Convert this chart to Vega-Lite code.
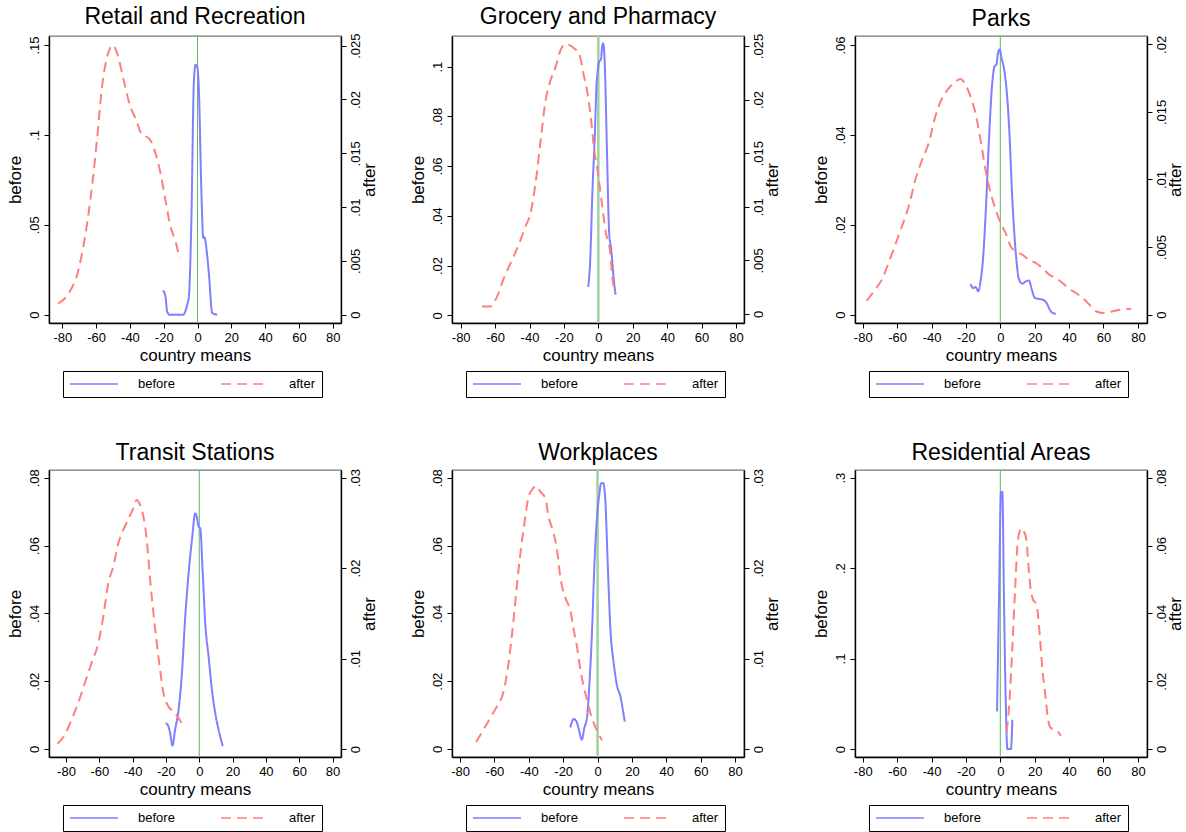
{
"$schema": "https://vega.github.io/schema/vega-lite/v6.json",
"background": "white",
"padding": {"left": 5, "top": 5, "right": 5, "bottom": 0},
"bounds": "flush",
"columns": 3,
"spacing": {"row": 147, "column": 111},
"datasets": {
"d": [
{"panel":"Retail","series":"before","x":-20.5,"y":0.0135},{"panel":"Retail","series":"before","x":-19.0,"y":0.0102},{"panel":"Retail","series":"before","x":-18.0,"y":0.0019},{"panel":"Retail","series":"before","x":-16.6,"y":0},{"panel":"Retail","series":"before","x":-8.5,"y":0},{"panel":"Retail","series":"before","x":-6.1,"y":0.0056},{"panel":"Retail","series":"before","x":-5.1,"y":0.0102},{"panel":"Retail","series":"before","x":-3.6,"y":0.0546},{"panel":"Retail","series":"before","x":-2.2,"y":0.1287},{"panel":"Retail","series":"before","x":-1.2,"y":0.139},{"panel":"Retail","series":"before","x":-0.2,"y":0.138},{"panel":"Retail","series":"before","x":0.8,"y":0.125},{"panel":"Retail","series":"before","x":2.2,"y":0.0713},{"panel":"Retail","series":"before","x":3.4,"y":0.0426},{"panel":"Retail","series":"before","x":4.1,"y":0.0431},{"panel":"Retail","series":"before","x":5.1,"y":0.038},{"panel":"Retail","series":"before","x":6.7,"y":0.0231},{"panel":"Retail","series":"before","x":8.7,"y":0.0009},{"panel":"Retail","series":"before","x":11.7,"y":0},
{"panel":"Retail","series":"after","x":-82.6,"y":0.00102},{"panel":"Retail","series":"after","x":-76.2,"y":0.00201},{"panel":"Retail","series":"after","x":-70.7,"y":0.00402},{"panel":"Retail","series":"after","x":-67.4,"y":0.0065},{"panel":"Retail","series":"after","x":-63.4,"y":0.0107},{"panel":"Retail","series":"after","x":-59.5,"y":0.01624},{"panel":"Retail","series":"after","x":-56.5,"y":0.0212},{"panel":"Retail","series":"after","x":-52.9,"y":0.0243},{"panel":"Retail","series":"after","x":-50.2,"y":0.02506},{"panel":"Retail","series":"after","x":-47.6,"y":0.0243},{"panel":"Retail","series":"after","x":-43.7,"y":0.0218},{"panel":"Retail","series":"after","x":-39.7,"y":0.0193},{"panel":"Retail","series":"after","x":-36.7,"y":0.01825},{"panel":"Retail","series":"after","x":-32.8,"y":0.0167},{"panel":"Retail","series":"after","x":-28.8,"y":0.0164},{"panel":"Retail","series":"after","x":-24.9,"y":0.015},{"panel":"Retail","series":"after","x":-21.9,"y":0.01315},{"panel":"Retail","series":"after","x":-19.0,"y":0.01067},{"panel":"Retail","series":"after","x":-16.0,"y":0.0082},{"panel":"Retail","series":"after","x":-13.0,"y":0.0068},{"panel":"Retail","series":"after","x":-10.7,"y":0.00526},
{"panel":"Grocery","series":"before","x":-5.9,"y":0.0114},{"panel":"Grocery","series":"before","x":-4.8,"y":0.021},{"panel":"Grocery","series":"before","x":-3.4,"y":0.0505},{"panel":"Grocery","series":"before","x":-2.0,"y":0.0732},{"panel":"Grocery","series":"before","x":-1.1,"y":0.092},{"panel":"Grocery","series":"before","x":-0.5,"y":0.0973},{"panel":"Grocery","series":"before","x":0.5,"y":0.102},{"panel":"Grocery","series":"before","x":1.5,"y":0.1029},{"panel":"Grocery","series":"before","x":2.2,"y":0.108},{"panel":"Grocery","series":"before","x":2.8,"y":0.1094},{"panel":"Grocery","series":"before","x":3.8,"y":0.1},{"panel":"Grocery","series":"before","x":5.0,"y":0.0665},{"panel":"Grocery","series":"before","x":6.3,"y":0.0331},{"panel":"Grocery","series":"before","x":7.5,"y":0.0264},{"panel":"Grocery","series":"before","x":8.8,"y":0.0157},{"panel":"Grocery","series":"before","x":10.0,"y":0.0083},
{"panel":"Grocery","series":"after","x":-67.6,"y":0.00071},{"panel":"Grocery","series":"after","x":-62.7,"y":0.00071},{"panel":"Grocery","series":"after","x":-58.8,"y":0.00165},{"panel":"Grocery","series":"after","x":-54.9,"y":0.00335},{"panel":"Grocery","series":"after","x":-51.0,"y":0.00475},{"panel":"Grocery","series":"after","x":-47.1,"y":0.00615},{"panel":"Grocery","series":"after","x":-42.3,"y":0.00817},{"panel":"Grocery","series":"after","x":-39.4,"y":0.0094},{"panel":"Grocery","series":"after","x":-36.5,"y":0.0122},{"panel":"Grocery","series":"after","x":-33.5,"y":0.01624},{"panel":"Grocery","series":"after","x":-30.6,"y":0.01997},{"panel":"Grocery","series":"after","x":-27.7,"y":0.02183},{"panel":"Grocery","series":"after","x":-24.8,"y":0.02307},{"panel":"Grocery","series":"after","x":-21.9,"y":0.02463},{"panel":"Grocery","series":"after","x":-19.6,"y":0.02516},{"panel":"Grocery","series":"after","x":-17.0,"y":0.0251},{"panel":"Grocery","series":"after","x":-14.1,"y":0.02478},{"panel":"Grocery","series":"after","x":-11.2,"y":0.0243},{"panel":"Grocery","series":"after","x":-8.7,"y":0.02245},{"panel":"Grocery","series":"after","x":-6.3,"y":0.0206},{"panel":"Grocery","series":"after","x":-4.4,"y":0.0184},{"panel":"Grocery","series":"after","x":-2.4,"y":0.0153},{"panel":"Grocery","series":"after","x":-0.5,"y":0.01345},{"panel":"Grocery","series":"after","x":1.8,"y":0.01065},{"panel":"Grocery","series":"after","x":4.4,"y":0.00755},{"panel":"Grocery","series":"after","x":6.7,"y":0.006},{"panel":"Grocery","series":"after","x":8.3,"y":0.0032},{"panel":"Grocery","series":"after","x":9.6,"y":0.0021},
{"panel":"Parks","series":"before","x":-17.3,"y":0.00681},{"panel":"Parks","series":"before","x":-15.8,"y":0.00593},{"panel":"Parks","series":"before","x":-14.4,"y":0.00615},{"panel":"Parks","series":"before","x":-12.8,"y":0.00519},{"panel":"Parks","series":"before","x":-11.5,"y":0.0074},{"panel":"Parks","series":"before","x":-10.1,"y":0.0122},{"panel":"Parks","series":"before","x":-8.6,"y":0.0219},{"panel":"Parks","series":"before","x":-6.6,"y":0.0389},{"panel":"Parks","series":"before","x":-4.7,"y":0.0515},{"panel":"Parks","series":"before","x":-3.3,"y":0.0553},{"panel":"Parks","series":"before","x":-2.3,"y":0.0556},{"panel":"Parks","series":"before","x":-1.4,"y":0.0581},{"panel":"Parks","series":"before","x":-0.4,"y":0.059},{"panel":"Parks","series":"before","x":0.8,"y":0.057},{"panel":"Parks","series":"before","x":2.1,"y":0.0548},{"panel":"Parks","series":"before","x":3.5,"y":0.0507},{"panel":"Parks","series":"before","x":5.1,"y":0.0419},{"panel":"Parks","series":"before","x":7.0,"y":0.0256},{"panel":"Parks","series":"before","x":9.0,"y":0.0137},{"panel":"Parks","series":"before","x":10.9,"y":0.0078},{"panel":"Parks","series":"before","x":12.8,"y":0.0069},{"panel":"Parks","series":"before","x":14.8,"y":0.0074},{"panel":"Parks","series":"before","x":16.7,"y":0.0076},{"panel":"Parks","series":"before","x":18.3,"y":0.0056},{"panel":"Parks","series":"before","x":20.2,"y":0.0037},{"panel":"Parks","series":"before","x":22.6,"y":0.0035},{"panel":"Parks","series":"before","x":24.9,"y":0.0033},{"panel":"Parks","series":"before","x":26.9,"y":0.0026},{"panel":"Parks","series":"before","x":28.8,"y":0.0011},{"panel":"Parks","series":"before","x":30.4,"y":0.0004},{"panel":"Parks","series":"before","x":32.3,"y":0.0002},
{"panel":"Parks","series":"after","x":-77.7,"y":0.00103},{"panel":"Parks","series":"after","x":-72.8,"y":0.00185},{"panel":"Parks","series":"after","x":-68.9,"y":0.00259},{"panel":"Parks","series":"after","x":-65.0,"y":0.00382},{"panel":"Parks","series":"after","x":-61.1,"y":0.00517},{"panel":"Parks","series":"after","x":-57.2,"y":0.00653},{"panel":"Parks","series":"after","x":-53.3,"y":0.008},{"panel":"Parks","series":"after","x":-49.4,"y":0.00998},{"panel":"Parks","series":"after","x":-45.5,"y":0.01145},{"panel":"Parks","series":"after","x":-41.7,"y":0.01268},{"panel":"Parks","series":"after","x":-37.8,"y":0.01466},{"panel":"Parks","series":"after","x":-33.9,"y":0.01601},{"panel":"Parks","series":"after","x":-30.0,"y":0.01675},{"panel":"Parks","series":"after","x":-26.1,"y":0.01724},{"panel":"Parks","series":"after","x":-23.2,"y":0.01744},{"panel":"Parks","series":"after","x":-20.2,"y":0.017},{"panel":"Parks","series":"after","x":-17.3,"y":0.01613},{"panel":"Parks","series":"after","x":-14.4,"y":0.0149},{"panel":"Parks","series":"after","x":-11.5,"y":0.01293},{"panel":"Parks","series":"after","x":-8.6,"y":0.01071},{"panel":"Parks","series":"after","x":-5.6,"y":0.00899},{"panel":"Parks","series":"after","x":-2.7,"y":0.00776},{"panel":"Parks","series":"after","x":0.2,"y":0.00677},{"panel":"Parks","series":"after","x":3.1,"y":0.00603},{"panel":"Parks","series":"after","x":6.0,"y":0.00505},{"panel":"Parks","series":"after","x":9.0,"y":0.00468},{"panel":"Parks","series":"after","x":12.8,"y":0.00443},{"panel":"Parks","series":"after","x":16.7,"y":0.00406},{"panel":"Parks","series":"after","x":20.6,"y":0.00382},{"panel":"Parks","series":"after","x":24.5,"y":0.00345},{"panel":"Parks","series":"after","x":28.4,"y":0.00296},{"panel":"Parks","series":"after","x":32.3,"y":0.00271},{"panel":"Parks","series":"after","x":36.2,"y":0.00234},{"panel":"Parks","series":"after","x":40.1,"y":0.0019},{"panel":"Parks","series":"after","x":44.0,"y":0.0016},{"panel":"Parks","series":"after","x":47.9,"y":0.00123},{"panel":"Parks","series":"after","x":51.8,"y":0.00074},{"panel":"Parks","series":"after","x":55.7,"y":0.00025},{"panel":"Parks","series":"after","x":59.6,"y":0.00012},{"panel":"Parks","series":"after","x":63.5,"y":0.0002},{"panel":"Parks","series":"after","x":68.3,"y":0.00032},{"panel":"Parks","series":"after","x":73.2,"y":0.00042},{"panel":"Parks","series":"after","x":76.1,"y":0.00042},
{"panel":"Transit","series":"before","x":-20.1,"y":0.00766},{"panel":"Transit","series":"before","x":-18.5,"y":0.00667},{"panel":"Transit","series":"before","x":-17.3,"y":0.00422},{"panel":"Transit","series":"before","x":-16.1,"y":0.00098},{"panel":"Transit","series":"before","x":-14.5,"y":0.0057},{"panel":"Transit","series":"before","x":-12.4,"y":0.01158},{"panel":"Transit","series":"before","x":-10.4,"y":0.0224},{"panel":"Transit","series":"before","x":-8.4,"y":0.0391},{"panel":"Transit","series":"before","x":-6.4,"y":0.0518},{"panel":"Transit","series":"before","x":-4.4,"y":0.0616},{"panel":"Transit","series":"before","x":-2.4,"y":0.0695},{"panel":"Transit","series":"before","x":-1.4,"y":0.0683},{"panel":"Transit","series":"before","x":-0.4,"y":0.0656},{"panel":"Transit","series":"before","x":0.6,"y":0.0651},{"panel":"Transit","series":"before","x":2.0,"y":0.0528},{"panel":"Transit","series":"before","x":3.6,"y":0.0371},{"panel":"Transit","series":"before","x":5.6,"y":0.0273},{"panel":"Transit","series":"before","x":7.6,"y":0.0175},{"panel":"Transit","series":"before","x":9.6,"y":0.0106},{"panel":"Transit","series":"before","x":11.6,"y":0.0057},{"panel":"Transit","series":"before","x":14.1,"y":0.0008},
{"panel":"Transit","series":"after","x":-85.1,"y":0.00059},{"panel":"Transit","series":"after","x":-80.7,"y":0.00158},{"panel":"Transit","series":"after","x":-76.7,"y":0.00324},{"panel":"Transit","series":"after","x":-72.7,"y":0.00508},{"panel":"Transit","series":"after","x":-68.7,"y":0.00729},{"panel":"Transit","series":"after","x":-64.7,"y":0.0095},{"panel":"Transit","series":"after","x":-60.6,"y":0.0117},{"panel":"Transit","series":"after","x":-57.6,"y":0.01465},{"panel":"Transit","series":"after","x":-54.6,"y":0.01833},{"panel":"Transit","series":"after","x":-51.6,"y":0.02017},{"panel":"Transit","series":"after","x":-48.6,"y":0.02275},{"panel":"Transit","series":"after","x":-45.6,"y":0.02422},{"panel":"Transit","series":"after","x":-42.6,"y":0.0254},{"panel":"Transit","series":"after","x":-39.6,"y":0.02661},{"panel":"Transit","series":"after","x":-37.6,"y":0.02753},{"panel":"Transit","series":"after","x":-35.5,"y":0.02698},{"panel":"Transit","series":"after","x":-33.5,"y":0.02569},{"panel":"Transit","series":"after","x":-31.5,"y":0.02311},{"panel":"Transit","series":"after","x":-29.5,"y":0.0187},{"panel":"Transit","series":"after","x":-27.5,"y":0.01502},{"panel":"Transit","series":"after","x":-25.5,"y":0.0117},{"panel":"Transit","series":"after","x":-23.5,"y":0.00876},{"panel":"Transit","series":"after","x":-21.5,"y":0.00618},{"panel":"Transit","series":"after","x":-18.5,"y":0.00471},{"panel":"Transit","series":"after","x":-15.5,"y":0.00416},{"panel":"Transit","series":"after","x":-12.4,"y":0.00342},{"panel":"Transit","series":"after","x":-9.4,"y":0.0025},
{"panel":"Work","series":"before","x":-15.9,"y":0.00638},{"panel":"Work","series":"before","x":-13.9,"y":0.00883},{"panel":"Work","series":"before","x":-12.3,"y":0.00815},{"panel":"Work","series":"before","x":-10.6,"y":0.0052},{"panel":"Work","series":"before","x":-9.2,"y":0.00275},{"panel":"Work","series":"before","x":-7.7,"y":0.00618},{"panel":"Work","series":"before","x":-6.1,"y":0.00962},{"panel":"Work","series":"before","x":-4.6,"y":0.0204},{"panel":"Work","series":"before","x":-3.2,"y":0.0351},{"panel":"Work","series":"before","x":-1.8,"y":0.0548},{"panel":"Work","series":"before","x":-0.3,"y":0.0685},{"panel":"Work","series":"before","x":1.1,"y":0.0754},{"panel":"Work","series":"before","x":2.0,"y":0.0783},{"panel":"Work","series":"before","x":3.2,"y":0.0785},{"panel":"Work","series":"before","x":4.4,"y":0.0744},{"panel":"Work","series":"before","x":5.9,"y":0.0548},{"panel":"Work","series":"before","x":7.5,"y":0.0351},{"panel":"Work","series":"before","x":9.4,"y":0.0253},{"panel":"Work","series":"before","x":11.4,"y":0.0185},{"panel":"Work","series":"before","x":13.3,"y":0.0155},{"panel":"Work","series":"before","x":14.7,"y":0.0116},{"panel":"Work","series":"before","x":15.8,"y":0.0081},
{"panel":"Work","series":"after","x":-70.7,"y":0.00077},{"panel":"Work","series":"after","x":-66.4,"y":0.00213},{"panel":"Work","series":"after","x":-62.5,"y":0.00342},{"panel":"Work","series":"after","x":-58.6,"y":0.00471},{"panel":"Work","series":"after","x":-54.7,"y":0.00637},{"panel":"Work","series":"after","x":-51.8,"y":0.0095},{"panel":"Work","series":"after","x":-48.9,"y":0.01428},{"panel":"Work","series":"after","x":-46.0,"y":0.0198},{"panel":"Work","series":"after","x":-43.1,"y":0.02422},{"panel":"Work","series":"after","x":-40.1,"y":0.0279},{"panel":"Work","series":"after","x":-38.2,"y":0.02863},{"panel":"Work","series":"after","x":-35.7,"y":0.02908},{"panel":"Work","series":"after","x":-33.3,"y":0.02845},{"panel":"Work","series":"after","x":-30.4,"y":0.02771},{"panel":"Work","series":"after","x":-28.5,"y":0.02569},{"panel":"Work","series":"after","x":-25.6,"y":0.02385},{"panel":"Work","series":"after","x":-23.6,"y":0.02201},{"panel":"Work","series":"after","x":-21.7,"y":0.01907},{"panel":"Work","series":"after","x":-19.7,"y":0.01722},{"panel":"Work","series":"after","x":-17.8,"y":0.0163},{"panel":"Work","series":"after","x":-15.9,"y":0.01538},{"panel":"Work","series":"after","x":-13.9,"y":0.01318},{"panel":"Work","series":"after","x":-12.0,"y":0.01134},{"panel":"Work","series":"after","x":-10.0,"y":0.00876},{"panel":"Work","series":"after","x":-8.1,"y":0.00692},{"panel":"Work","series":"after","x":-6.1,"y":0.00545},{"panel":"Work","series":"after","x":-4.2,"y":0.00397},{"panel":"Work","series":"after","x":-2.2,"y":0.00287},{"panel":"Work","series":"after","x":0.3,"y":0.00177},{"panel":"Work","series":"after","x":2.6,"y":0.00096},
{"panel":"Resid","series":"before","x":-1.9,"y":0.0416},{"panel":"Resid","series":"before","x":-0.8,"y":0.161},{"panel":"Resid","series":"before","x":0.4,"y":0.284},{"panel":"Resid","series":"before","x":1.2,"y":0.284},{"panel":"Resid","series":"before","x":2.1,"y":0.1686},{"panel":"Resid","series":"before","x":3.1,"y":0.0581},{"panel":"Resid","series":"before","x":4.1,"y":0},{"panel":"Resid","series":"before","x":6.2,"y":0},{"panel":"Resid","series":"before","x":7.0,"y":0.0324},
{"panel":"Resid","series":"after","x":3.7,"y":0.0052},{"panel":"Resid","series":"after","x":5.5,"y":0.0155},{"panel":"Resid","series":"after","x":7.0,"y":0.0302},{"panel":"Resid","series":"after","x":8.6,"y":0.0469},{"panel":"Resid","series":"after","x":9.9,"y":0.0597},{"panel":"Resid","series":"after","x":10.9,"y":0.0636},{"panel":"Resid","series":"after","x":12.5,"y":0.0651},{"panel":"Resid","series":"after","x":13.8,"y":0.0641},{"panel":"Resid","series":"after","x":15.2,"y":0.0616},{"panel":"Resid","series":"after","x":16.4,"y":0.0538},{"panel":"Resid","series":"after","x":17.7,"y":0.0469},{"panel":"Resid","series":"after","x":19.1,"y":0.044},{"panel":"Resid","series":"after","x":20.6,"y":0.043},{"panel":"Resid","series":"after","x":21.6,"y":0.041},{"panel":"Resid","series":"after","x":23.0,"y":0.0332},{"panel":"Resid","series":"after","x":24.5,"y":0.0234},{"panel":"Resid","series":"after","x":26.5,"y":0.0145},{"panel":"Resid","series":"after","x":27.5,"y":0.0096},{"panel":"Resid","series":"after","x":29.4,"y":0.0062},{"panel":"Resid","series":"after","x":32.3,"y":0.0057},{"panel":"Resid","series":"after","x":35.2,"y":0.0039}
]
},
"data": {"name": "d"},
"resolve": {"scale": {"color": "independent", "strokeDash": "independent"}, "legend": {"color": "independent", "strokeDash": "independent"}},
"concat": [
{"width": 292, "height": 287, "title": "Retail and Recreation",
 "layer": [
  {"data": {"values": [{"ref": "zero"}]}, "mark": {"type": "rule", "color": "#5cb85c", "strokeWidth": 1}, "encoding": {"x": {"datum": 0, "type": "quantitative", "scale": {"domain": [-87.9, 84.9], "nice": false, "zero": false}, "axis": {"values": [-80,-60,-40,-20,0,20,40,60,80], "title": "country means", "labelOverlap": false}}}},
  {"transform": [{"filter": "datum.panel == 'Retail' && datum.series == 'before'"}], "mark": {"type": "line", "strokeWidth": 2, "interpolate": "monotone"},
   "encoding": {"x": {"field": "x", "type": "quantitative", "axis": {"values": [-80,-60,-40,-20,0,20,40,60,80], "title": "country means", "labelOverlap": false}},
    "y": {"field": "y", "type": "quantitative", "scale": {"domain": [-0.00463, 0.155], "nice": false, "zero": false}, "axis": {"orient": "left", "values": [0,0.05,0.1,0.15], "title": "before"}},
    "color": {"field": "series", "type": "nominal", "scale": {"domain": ["before","after"], "range": ["#7f7fff","#ff7f7f"]}, "legend": {}},
    "strokeDash": {"field": "series", "type": "nominal", "scale": {"domain": ["before","after"], "range": [[1,0],[10,6]]}, "legend": {}}}},
  {"transform": [{"filter": "datum.panel == 'Retail' && datum.series == 'after'"}], "mark": {"type": "line", "strokeWidth": 2, "interpolate": "monotone"},
   "encoding": {"x": {"field": "x", "type": "quantitative", "axis": {"values": [-80,-60,-40,-20,0,20,40,60,80], "title": "country means", "labelOverlap": false}},
    "y": {"field": "y", "type": "quantitative", "scale": {"domain": [-0.00077, 0.0259], "nice": false, "zero": false}, "axis": {"orient": "right", "values": [0,0.005,0.01,0.015,0.02,0.025], "title": "after", "labelBaseline": "top", "titleAngle": 270, "titleBaseline": "top", "titlePadding": -1}},
    "color": {"field": "series", "type": "nominal"},
    "strokeDash": {"field": "series", "type": "nominal"}}}
 ],
 "resolve": {"scale": {"y": "independent"}}},
{"width": 292, "height": 287, "title": "Grocery and Pharmacy",
 "layer": [
  {"data": {"values": [{"ref": "zero"}]}, "mark": {"type": "rule", "color": "#9ed29e", "strokeWidth": 2.5}, "encoding": {"x": {"datum": 0, "type": "quantitative", "scale": {"domain": [-85.05, 84.66], "nice": false, "zero": false}, "axis": {"values": [-80,-60,-40,-20,0,20,40,60,80], "title": "country means", "labelOverlap": false}}}},
  {"transform": [{"filter": "datum.panel == 'Grocery' && datum.series == 'before'"}], "mark": {"type": "line", "strokeWidth": 2, "interpolate": "monotone"},
   "encoding": {"x": {"field": "x", "type": "quantitative", "axis": {"values": [-80,-60,-40,-20,0,20,40,60,80], "title": "country means", "labelOverlap": false}},
    "y": {"field": "y", "type": "quantitative", "scale": {"domain": [-0.00308, 0.1123], "nice": false, "zero": false}, "axis": {"orient": "left", "values": [0,0.02,0.04,0.06,0.08,0.1], "title": "before"}},
    "color": {"field": "series", "type": "nominal", "scale": {"domain": ["before","after"], "range": ["#7f7fff","#ff7f7f"]}, "legend": {}},
    "strokeDash": {"field": "series", "type": "nominal", "scale": {"domain": ["before","after"], "range": [[1,0],[10,6]]}, "legend": {}}}},
  {"transform": [{"filter": "datum.panel == 'Grocery' && datum.series == 'after'"}], "mark": {"type": "line", "strokeWidth": 2, "interpolate": "monotone"},
   "encoding": {"x": {"field": "x", "type": "quantitative", "axis": {"values": [-80,-60,-40,-20,0,20,40,60,80], "title": "country means", "labelOverlap": false}},
    "y": {"field": "y", "type": "quantitative", "scale": {"domain": [-0.00084, 0.02593], "nice": false, "zero": false}, "axis": {"orient": "right", "values": [0,0.005,0.01,0.015,0.02,0.025], "title": "after", "labelBaseline": "top", "titleAngle": 270, "titleBaseline": "top", "titlePadding": -1}},
    "color": {"field": "series", "type": "nominal"},
    "strokeDash": {"field": "series", "type": "nominal"}}}
 ],
 "resolve": {"scale": {"y": "independent"}}},
{"width": 292, "height": 287, "title": "Parks",
 "layer": [
  {"data": {"values": [{"ref": "zero"}]}, "mark": {"type": "rule", "color": "#5cb85c", "strokeWidth": 1}, "encoding": {"x": {"datum": 0, "type": "quantitative", "scale": {"domain": [-84.5, 85.3], "nice": false, "zero": false}, "axis": {"values": [-80,-60,-40,-20,0,20,40,60,80], "title": "country means", "labelOverlap": false}}}},
  {"transform": [{"filter": "datum.panel == 'Parks' && datum.series == 'before'"}], "mark": {"type": "line", "strokeWidth": 2, "interpolate": "monotone"},
   "encoding": {"x": {"field": "x", "type": "quantitative", "axis": {"values": [-80,-60,-40,-20,0,20,40,60,80], "title": "country means", "labelOverlap": false}},
    "y": {"field": "y", "type": "quantitative", "scale": {"domain": [-0.00185, 0.062], "nice": false, "zero": false}, "axis": {"orient": "left", "values": [0,0.02,0.04,0.06], "title": "before"}},
    "color": {"field": "series", "type": "nominal", "scale": {"domain": ["before","after"], "range": ["#7f7fff","#ff7f7f"]}, "legend": {}},
    "strokeDash": {"field": "series", "type": "nominal", "scale": {"domain": ["before","after"], "range": [[1,0],[10,6]]}, "legend": {}}}},
  {"transform": [{"filter": "datum.panel == 'Parks' && datum.series == 'after'"}], "mark": {"type": "line", "strokeWidth": 2, "interpolate": "monotone"},
   "encoding": {"x": {"field": "x", "type": "quantitative", "axis": {"values": [-80,-60,-40,-20,0,20,40,60,80], "title": "country means", "labelOverlap": false}},
    "y": {"field": "y", "type": "quantitative", "scale": {"domain": [-0.00062, 0.02062], "nice": false, "zero": false}, "axis": {"orient": "right", "values": [0,0.005,0.01,0.015,0.02], "title": "after", "labelBaseline": "top", "titleAngle": 270, "titleBaseline": "top", "titlePadding": -1}},
    "color": {"field": "series", "type": "nominal"},
    "strokeDash": {"field": "series", "type": "nominal"}}}
 ],
 "resolve": {"scale": {"y": "independent"}}},
{"width": 292, "height": 287, "title": "Transit Stations",
 "layer": [
  {"data": {"values": [{"ref": "zero"}]}, "mark": {"type": "rule", "color": "#5cb85c", "strokeWidth": 1}, "encoding": {"x": {"datum": 0, "type": "quantitative", "scale": {"domain": [-90.2, 85.1], "nice": false, "zero": false}, "axis": {"values": [-80,-60,-40,-20,0,20,40,60,80], "title": "country means", "labelOverlap": false}}}},
  {"transform": [{"filter": "datum.panel == 'Transit' && datum.series == 'before'"}], "mark": {"type": "line", "strokeWidth": 2, "interpolate": "monotone"},
   "encoding": {"x": {"field": "x", "type": "quantitative", "axis": {"values": [-80,-60,-40,-20,0,20,40,60,80], "title": "country means", "labelOverlap": false}},
    "y": {"field": "y", "type": "quantitative", "scale": {"domain": [-0.00236, 0.0823], "nice": false, "zero": false}, "axis": {"orient": "left", "values": [0,0.02,0.04,0.06,0.08], "title": "before"}},
    "color": {"field": "series", "type": "nominal", "scale": {"domain": ["before","after"], "range": ["#7f7fff","#ff7f7f"]}, "legend": {}},
    "strokeDash": {"field": "series", "type": "nominal", "scale": {"domain": ["before","after"], "range": [[1,0],[10,6]]}, "legend": {}}}},
  {"transform": [{"filter": "datum.panel == 'Transit' && datum.series == 'after'"}], "mark": {"type": "line", "strokeWidth": 2, "interpolate": "monotone"},
   "encoding": {"x": {"field": "x", "type": "quantitative", "axis": {"values": [-80,-60,-40,-20,0,20,40,60,80], "title": "country means", "labelOverlap": false}},
    "y": {"field": "y", "type": "quantitative", "scale": {"domain": [-0.00088, 0.03084], "nice": false, "zero": false}, "axis": {"orient": "right", "values": [0,0.01,0.02,0.03], "title": "after", "labelBaseline": "top", "titleAngle": 270, "titleBaseline": "top", "titlePadding": -1}},
    "color": {"field": "series", "type": "nominal"},
    "strokeDash": {"field": "series", "type": "nominal"}}}
 ],
 "resolve": {"scale": {"y": "independent"}}},
{"width": 292, "height": 287, "title": "Workplaces",
 "layer": [
  {"data": {"values": [{"ref": "zero"}]}, "mark": {"type": "rule", "color": "#9ed29e", "strokeWidth": 2.5}, "encoding": {"x": {"datum": 0, "type": "quantitative", "scale": {"domain": [-84.7, 85.2], "nice": false, "zero": false}, "axis": {"values": [-80,-60,-40,-20,0,20,40,60,80], "title": "country means", "labelOverlap": false}}}},
  {"transform": [{"filter": "datum.panel == 'Work' && datum.series == 'before'"}], "mark": {"type": "line", "strokeWidth": 2, "interpolate": "monotone"},
   "encoding": {"x": {"field": "x", "type": "quantitative", "axis": {"values": [-80,-60,-40,-20,0,20,40,60,80], "title": "country means", "labelOverlap": false}},
    "y": {"field": "y", "type": "quantitative", "scale": {"domain": [-0.00236, 0.0823], "nice": false, "zero": false}, "axis": {"orient": "left", "values": [0,0.02,0.04,0.06,0.08], "title": "before"}},
    "color": {"field": "series", "type": "nominal", "scale": {"domain": ["before","after"], "range": ["#7f7fff","#ff7f7f"]}, "legend": {}},
    "strokeDash": {"field": "series", "type": "nominal", "scale": {"domain": ["before","after"], "range": [[1,0],[10,6]]}, "legend": {}}}},
  {"transform": [{"filter": "datum.panel == 'Work' && datum.series == 'after'"}], "mark": {"type": "line", "strokeWidth": 2, "interpolate": "monotone"},
   "encoding": {"x": {"field": "x", "type": "quantitative", "axis": {"values": [-80,-60,-40,-20,0,20,40,60,80], "title": "country means", "labelOverlap": false}},
    "y": {"field": "y", "type": "quantitative", "scale": {"domain": [-0.00088, 0.03084], "nice": false, "zero": false}, "axis": {"orient": "right", "values": [0,0.01,0.02,0.03], "title": "after", "labelBaseline": "top", "titleAngle": 270, "titleBaseline": "top", "titlePadding": -1}},
    "color": {"field": "series", "type": "nominal"},
    "strokeDash": {"field": "series", "type": "nominal"}}}
 ],
 "resolve": {"scale": {"y": "independent"}}},
{"width": 292, "height": 287, "title": "Residential Areas",
 "layer": [
  {"data": {"values": [{"ref": "zero"}]}, "mark": {"type": "rule", "color": "#5cb85c", "strokeWidth": 1}, "encoding": {"x": {"datum": 0, "type": "quantitative", "scale": {"domain": [-84.5, 85.3], "nice": false, "zero": false}, "axis": {"values": [-80,-60,-40,-20,0,20,40,60,80], "title": "country means", "labelOverlap": false}}}},
  {"transform": [{"filter": "datum.panel == 'Resid' && datum.series == 'before'"}], "mark": {"type": "line", "strokeWidth": 2, "interpolate": "monotone"},
   "encoding": {"x": {"field": "x", "type": "quantitative", "axis": {"values": [-80,-60,-40,-20,0,20,40,60,80], "title": "country means", "labelOverlap": false}},
    "y": {"field": "y", "type": "quantitative", "scale": {"domain": [-0.0088, 0.3084], "nice": false, "zero": false}, "axis": {"orient": "left", "values": [0,0.1,0.2,0.3], "title": "before"}},
    "color": {"field": "series", "type": "nominal", "scale": {"domain": ["before","after"], "range": ["#7f7fff","#ff7f7f"]}, "legend": {}},
    "strokeDash": {"field": "series", "type": "nominal", "scale": {"domain": ["before","after"], "range": [[1,0],[10,6]]}, "legend": {}}}},
  {"transform": [{"filter": "datum.panel == 'Resid' && datum.series == 'after'"}], "mark": {"type": "line", "strokeWidth": 2, "interpolate": "monotone"},
   "encoding": {"x": {"field": "x", "type": "quantitative", "axis": {"values": [-80,-60,-40,-20,0,20,40,60,80], "title": "country means", "labelOverlap": false}},
    "y": {"field": "y", "type": "quantitative", "scale": {"domain": [-0.00236, 0.0823], "nice": false, "zero": false}, "axis": {"orient": "right", "values": [0,0.02,0.04,0.06,0.08], "title": "after", "labelBaseline": "top", "titleAngle": 270, "titleBaseline": "top", "titlePadding": -1}},
    "color": {"field": "series", "type": "nominal"},
    "strokeDash": {"field": "series", "type": "nominal"}}}
 ],
 "resolve": {"scale": {"y": "independent"}}}
],
"config": {
 "font": "Liberation Sans",
 "view": {"stroke": "#777777", "strokeWidth": 1.3},
 "title": {"fontSize": 23, "fontWeight": "normal", "color": "#000000", "offset": 0, "anchor": "middle"},
 "axis": {"grid": false, "labelFontSize": 13, "labelColor": "#000000", "titleFontSize": 17, "titleFontWeight": "normal", "titleColor": "#000000", "domainColor": "#000000", "domainWidth": 1.4, "tickColor": "#000000", "tickSize": 5, "tickWidth": 1, "labelPadding": 3, "titlePadding": 2, "labelOverlap": false, "labelExpr": "datum.value == 0 ? '0' : replace(toString(datum.value), '0.', '.')"},
 "axisY": {"labelAngle": 270, "labelAlign": "center", "labelBaseline": "bottom", "titlePadding": 4},
 "axisX": {"labelExpr": "toString(datum.value)", "titlePadding": 3, "labelOverlap": false, "labelFlush": false},
 "legend": {"orient": "none", "legendX": 14, "legendY": 335, "direction": "horizontal", "title": null, "strokeColor": "#000000", "padding": 6, "symbolType": "M-1,0H7", "symbolSize": 144, "symbolStrokeWidth": 1.5, "labelFontSize": 13, "labelColor": "#000000", "labelOffset": 55, "columnPadding": 43, "labelFont": "Liberation Sans"},
 "line": {"strokeCap": "butt"}
}
}
